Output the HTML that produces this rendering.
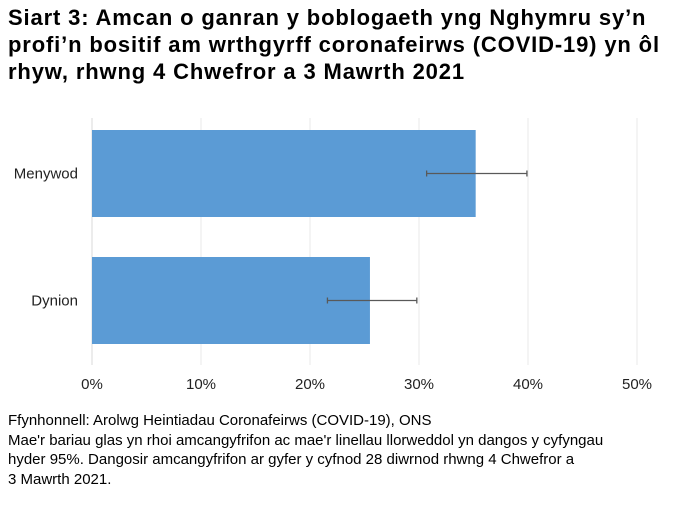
<!DOCTYPE html>
<html><head><meta charset="utf-8"><style>
body{margin:0;width:679px;height:513px;background:#fff;font-family:"Liberation Sans",sans-serif;overflow:hidden}
h1{position:absolute;left:8px;top:4px;margin:0;font-size:22px;letter-spacing:0.85px;line-height:27px;font-weight:bold;color:#000;white-space:nowrap}
.note{position:absolute;left:8px;top:411px;font-size:15px;line-height:19.5px;color:#000;white-space:nowrap}
svg{position:absolute;left:0;top:0}
</style></head><body>
<h1>Siart 3: Amcan o ganran y boblogaeth yng Nghymru sy’n<br>profi’n bositif am wrthgyrff coronafeirws (COVID-19) yn ôl<br>rhyw, rhwng 4 Chwefror a 3 Mawrth 2021</h1>
<svg id="chart" width="679" height="513"></svg>
<div class="note">Ffynhonnell: Arolwg Heintiadau Coronafeirws (COVID-19), ONS<br>Mae'r bariau glas yn rhoi amcangyfrifon ac mae'r linellau llorweddol yn dangos y cyfyngau<br>hyder 95%. Dangosir amcangyfrifon ar gyfer y cyfnod 28 diwrnod rhwng 4 Chwefror a<br>3 Mawrth 2021.</div>
<script>
const categories=["Menywod","Dynion"];
const values=[35.2,25.5];
const lower=[30.7,21.6];
const upper=[39.9,29.8];
const ticks=[0,10,20,30,40,50];
const tickLabels=["0%","10%","20%","30%","40%","50%"];
const svg=document.getElementById('chart');
const NS="http://www.w3.org/2000/svg";
const x0=92,pxPer=10.9,yTop=130,band=127,barH=87;
const xs=v=>x0+v*pxPer;
function mk(t,a){const e=document.createElementNS(NS,t);for(const k in a)e.setAttribute(k,a[k]);svg.appendChild(e);return e;}
ticks.forEach((t,i)=>{
 const g=mk('line',{x1:xs(t),x2:xs(t),y1:118,y2:365,stroke:i==0?'#d9d9d9':'#e8e8e8','stroke-width':1});
 
 
 const l=mk('text',{x:xs(t),y:389,'text-anchor':'middle','font-size':15,fill:'#222'});
 l.textContent=tickLabels[i];
 
 
});
categories.forEach((c,i)=>{
 const y=yTop+i*band;
 const b=mk('rect',{x:x0,y:y,width:xs(values[i])-x0,height:barH,fill:'#5b9bd5'});
 
 
 const cy=y+barH/2;
 const e=mk('path',{d:`M${xs(lower[i])},${cy}H${xs(upper[i])}M${xs(lower[i])},${cy-3}V${cy+3}M${xs(upper[i])},${cy-3}V${cy+3}`,stroke:'#595959','stroke-width':1.3,fill:'none'});
 
 
 const t=mk('text',{x:78,y:cy+5,'text-anchor':'end','font-size':15,fill:'#222'});
 t.textContent=c;
 
 
});
</script>
</body></html>
